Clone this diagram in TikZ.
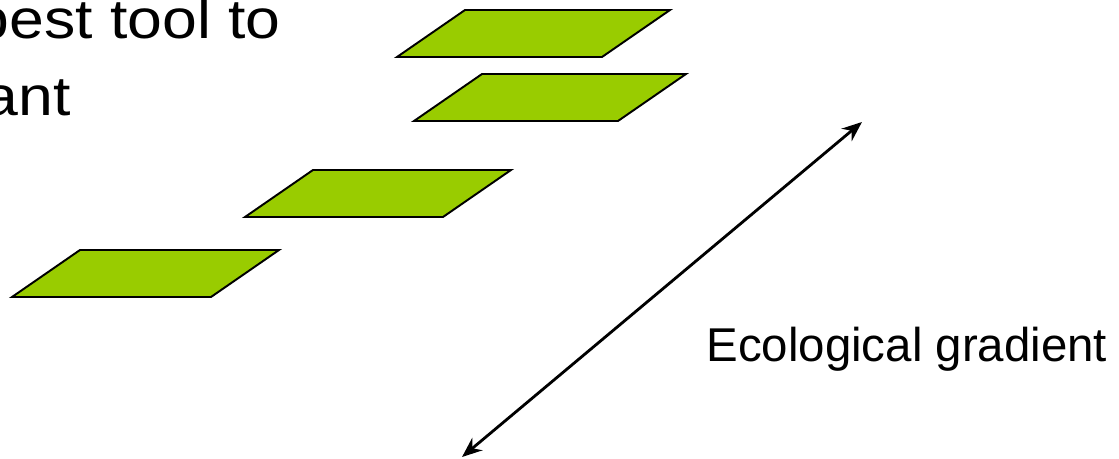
\documentclass[tikz,border=0pt]{standalone}
\usepackage{fontspec}
\setmainfont{Liberation Sans}
\usetikzlibrary{arrows.meta, positioning}
\definecolor{plotgreen}{RGB}{153, 204, 0}

\begin{document}
\begin{tikzpicture}[x=0.02cm, y=-0.02cm,
    plot/.style={draw=black, line width=1.1pt, fill=plotgreen, line join=miter},
    gradient/.style={line width=1.6pt, {Stealth[length=0.4cm, width=0.32cm]}-{Stealth[length=0.4cm, width=0.32cm]}},
    title/.style={inner sep=0pt, font=\fontsize{31.5}{36}\selectfont},
    axislabel/.style={inner sep=0pt, font=\fontsize{27}{32}\selectfont}
]
    % Frame
    \useasboundingbox (0,0) rectangle (1119,459);

    % Title text (cut at the left)
    \node[title, anchor=base east] (line1) at (281,39) {\scalebox{1.13}[1]{best tool to}};
    \node[title, anchor=base east] (line2) at (71,116) {\scalebox{1.13}[1]{ant}};

    % Plots
    \foreach \x/\y/\w in {397/57/205, 414/121/204, 245/217/198, 12/297/199} {
        \draw[plot] (\x,\y) -- ++(\w,0) -- ++(68,-47) -- ++(-\w,0) -- cycle;
    }

    % Gradient
    \coordinate (low) at (462,457);
    \coordinate (high) at (862,122);
    \draw[gradient] (low) -- (high);
    \node[axislabel, anchor=base west] (eco) at (706,361) {Ecological gradient};
\end{tikzpicture}
\end{document}
